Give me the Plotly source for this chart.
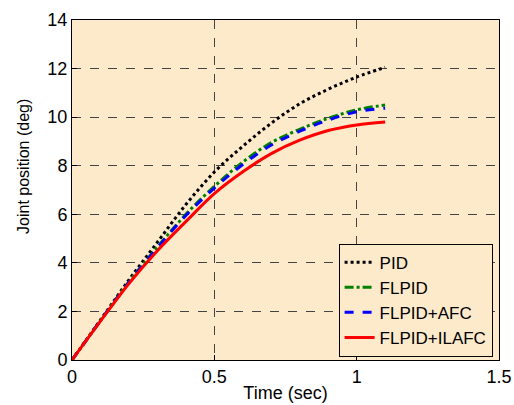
import plotly.graph_objects as go

t = [0, 0.1, 0.2, 0.3, 0.4, 0.5, 0.6, 0.7, 0.8, 0.9, 1.0, 1.1]
pid = [0, 1.65, 3.3, 4.85, 6.4, 7.74, 8.8, 9.75, 10.55, 11.15, 11.65, 12.05]
flpid = [0, 1.62, 3.22, 4.65, 6.0, 7.15, 8.15, 8.95, 9.5, 9.95, 10.3, 10.5]
flpid_afc = [0, 1.62, 3.2, 4.62, 5.95, 7.08, 8.05, 8.85, 9.42, 9.88, 10.22, 10.37]
flpid_ilafc = [0, 1.6, 3.15, 4.5, 5.7, 6.85, 7.75, 8.5, 9.05, 9.45, 9.68, 9.8]

series = [
    ("PID", pid, "black", "dot"),
    ("FLPID", flpid, "green", "dashdot"),
    ("FLPID+AFC", flpid_afc, "blue", "dash"),
    ("FLPID+ILAFC", flpid_ilafc, "red", "solid"),
]

fig = go.Figure()
for name, y, c, d in series:
    fig.add_trace(go.Scatter(x=t, y=y, name=name, mode="lines",
                             line=dict(color=c, dash=d, width=3, shape="spline")))

font = "Liberation Sans, Arial, sans-serif"
ax = dict(showline=True, linecolor="black", linewidth=1, mirror=True,
          ticks="inside", ticklen=5, tickcolor="black", automargin=False,
          showgrid=True, gridcolor="#444", griddash="dash", gridwidth=1,
          zeroline=False, tickfont=dict(size=18, color="black", family=font))

fig.update_layout(
    width=514, height=405,
    margin=dict(l=72, r=15, t=20, b=45),
    paper_bgcolor="white", plot_bgcolor="#FDEACB",
    font=dict(family=font, color="black"),
    xaxis=dict(range=[0, 1.5], tickvals=[0, 0.5, 1, 1.5], ticktext=["0", "0.5", "1", "1.5"],
               title=dict(text="Time (sec)", font=dict(size=18), standoff=0), **ax),
    yaxis=dict(range=[0, 14], tickvals=[0, 2, 4, 6, 8, 10, 12, 14], ticklabelstandoff=0, **ax),
    legend=dict(x=0.985, y=0.01, xanchor="right", yanchor="bottom",
                bgcolor="#FDEACB", bordercolor="black", borderwidth=1,
                font=dict(size=17), tracegroupgap=0, itemwidth=30),
    showlegend=True,
)
fig.add_annotation(text="Joint position (deg)", textangle=-90, xref="paper", yref="paper",
                   x=-0.14, y=0.57, showarrow=False, font=dict(size=16, color="black"))
fig.write_html("out.html", config={"displayModeBar": False},
               post_script="document.body.style.margin='0';")
